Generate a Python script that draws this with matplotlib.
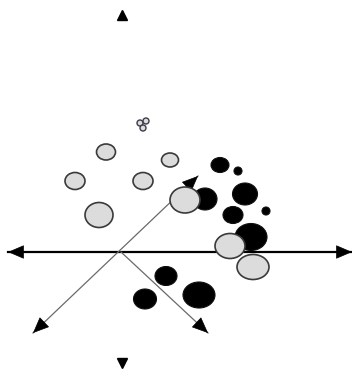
import matplotlib
matplotlib.use("Agg")
import matplotlib.pyplot as plt
from matplotlib.patches import Ellipse, FancyArrowPatch

# Pixel-space layout of the diagram (x right, y down)
W, H = 352, 374

# light grey bubbles: centre x, centre y, width, height
grey_x = [106, 170, 75, 143, 99, 185, 230, 253]
grey_y = [152, 160, 181, 181, 215, 200, 246, 267]
grey_w = [19, 17, 20, 20, 28, 30, 30, 32]
grey_h = [16, 14, 17, 17, 25, 26, 25, 25]

# tiny cluster of grey circles
tiny_x = [140, 146, 143]
tiny_y = [123, 121, 128]
tiny_d = [6, 6, 6]

# black bubbles
black_x = [220, 238, 205, 245, 266, 233, 251, 166, 145, 199]
black_y = [165, 171, 199, 194, 211, 215, 237, 276, 299, 295]
black_w = [18, 8, 24, 25, 8, 20, 32, 22, 23, 32]
black_h = [15, 8, 22, 22, 8, 17, 27, 19, 20, 26]

# axis lines: start (x, y), end (x, y), heads at start / end
axis_start = [(8, 252), (33, 333), (121, 252)]
axis_end = [(352, 252), (198, 176), (208, 333)]
head_start = [True, True, False]
head_end = [True, True, True]
axis_color = ['black', '#6a6a6a', '#6a6a6a']
axis_lw = [1.6, 0.9, 0.9]

# up / down markers
mark_x = [122, 122]
mark_y = [15, 363]
mark_shape = ['^', 'v']

fig = plt.figure(figsize=(W / 100, H / 100), dpi=100)
ax = fig.add_axes([0, 0, 1, 1])
ax.set_xlim(0, W)
ax.set_ylim(H, 0)
ax.axis('off')


def head(p_from, p_to):
    # short black arrow segment ending at p_to, used only for the head
    fx = p_to[0] + (p_from[0] - p_to[0]) * 0.02
    fy = p_to[1] + (p_from[1] - p_to[1]) * 0.02
    ax.add_patch(FancyArrowPatch((fx, fy), p_to,
                                 arrowstyle='-|>,head_length=0.75,head_width=0.32',
                                 mutation_scale=14, color='black', lw=0.5,
                                 zorder=1.5, shrinkA=0, shrinkB=0))


for s, e, hs, he, c, lw in zip(axis_start, axis_end, head_start, head_end,
                                axis_color, axis_lw):
    ax.plot([s[0], e[0]], [s[1], e[1]], color=c, lw=lw, zorder=1)
    if hs:
        head(e, s)
    if he:
        head(s, e)

for x, y, w, h in zip(black_x, black_y, black_w, black_h):
    ax.add_patch(Ellipse((x, y), w, h, fc='black', ec='#111111', lw=0.8, zorder=2))

for x, y, w, h in zip(grey_x, grey_y, grey_w, grey_h):
    ax.add_patch(Ellipse((x, y), w, h, fc='#dcdcdc', ec='#3a3a3a', lw=1.2, zorder=3))

for x, y, d in zip(tiny_x, tiny_y, tiny_d):
    ax.add_patch(Ellipse((x, y), d, d, fc='#dcdcdc', ec='#3a3a4a', lw=1.0, zorder=3))

for x, y, m in zip(mark_x, mark_y, mark_shape):
    ax.plot(x, y, marker=m, color='black', markersize=7, zorder=4)

fig.savefig('out.png', dpi=100)
